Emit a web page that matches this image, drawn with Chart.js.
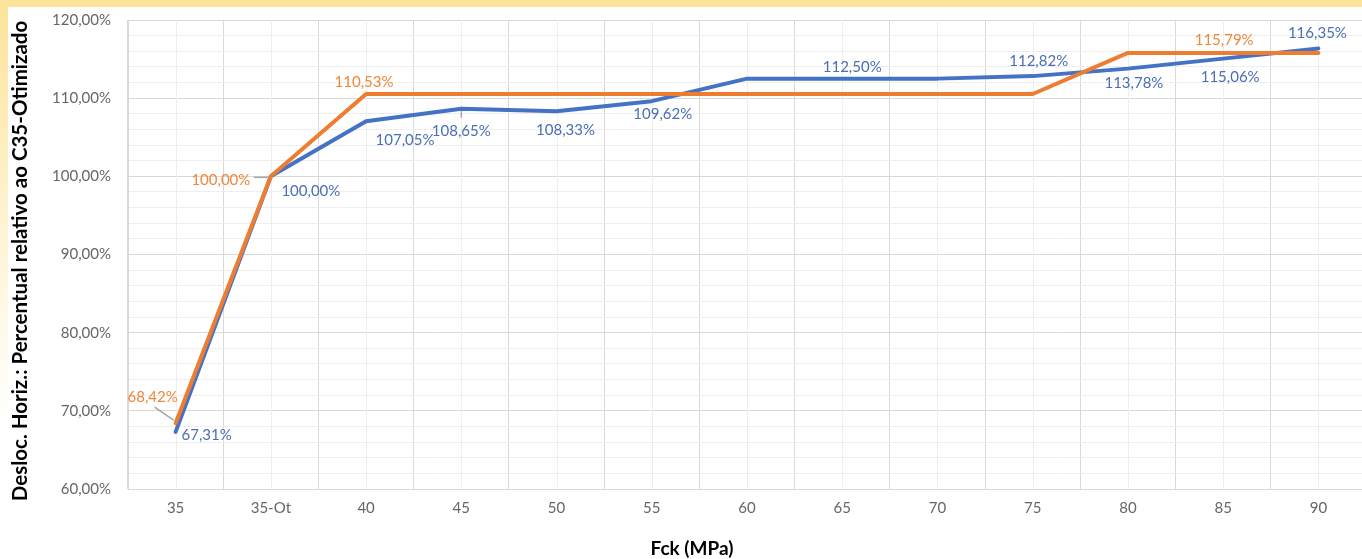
<!DOCTYPE html>
<html>
<head>
<meta charset="utf-8">
<script src="https://cdn.jsdelivr.net/npm/chart.js@4.4.1/dist/chart.umd.min.js"></script>
<style>
  html, body { margin: 0; padding: 0; background: #fff; overflow: hidden; width: 1362px; height: 559px; }
  #faixa-topo { position: absolute; left: 0; top: 0; width: 1362px; height: 7px; background: #fde49b; }
  #faixa-esq { position: absolute; left: 0; top: 7px; width: 8px; height: 420px;
    background: linear-gradient(to bottom, #fde49b 0%, rgba(253,228,155,0.5) 45%, rgba(253,228,155,0) 100%); }
  #grafico { position: absolute; left: 0; top: 0; }
</style>
</head>
<body>
<canvas id="grafico" width="1366" height="559"></canvas>
<div id="faixa-topo"></div>
<div id="faixa-esq"></div>
<script>
// Categorias do eixo X (Fck em MPa)
const categorias = ['35', '35-Ot', '40', '45', '50', '55', '60', '65', '70', '75', '80', '85', '90'];

// Séries (percentual relativo ao C35-Otimizado)
const serieAzul = [67.31, 100.00, 107.05, 108.65, 108.33, 109.62, 112.50, 112.50, 112.50, 112.82, 113.78, 115.06, 116.35];
const serieLaranja = [68.42, 100.00, 110.53, 110.53, 110.53, 110.53, 110.53, 110.53, 110.53, 110.53, 115.79, 115.79, 115.79];

// Limites do eixo Y
const yMin = 60;
const yMax = 120;

// Títulos dos eixos
const tituloX = 'Fck (MPa)';
const tituloY = 'Desloc. Horiz.: Percentual relativo ao C35-Otimizado';

// Posição dos rótulos (deslocamento em px a partir do ponto, centro do texto); null = sem rótulo
const posRotulosAzul = [[31, 3], [40, 15], [39, 19], [0, 22], [9, 19], [11, 13], null, [10, -11], null, [6, -15], [6, 15], [7, 19], [-1, -15]];
const posRotulosLaranja = [[-23, -26], [-50, 4], [-2, -12], null, null, null, null, null, null, null, null, [1, -13], null];
// Linhas de chamada: [índice, x1, y1, x2, y2] relativos ao ponto
const guiasAzul = [[3, 0, 2, 0, 9]];
const guiasLaranja = [[0, -21, -16, -2, -3], [1, -17, 1, -3, 1]];

const AZUL = '#4472c4';
const LARANJA = '#ed7d31';
const fmt = v => v.toFixed(2).replace('.', ',') + '%';

// Grade secundária vertical no centro de cada categoria
const gradeMenor = {
    id: 'gradeMenor',
    beforeDatasetsDraw(chart) {
        const { ctx, chartArea, scales } = chart;
        ctx.save();
        ctx.strokeStyle = '#eeeeee';
        ctx.lineWidth = 1;
        categorias.forEach((c, i) => {
            const x = Math.round(scales.x.getPixelForValue(i)) + 0.5;
            ctx.beginPath();
            ctx.moveTo(x, chartArea.top);
            ctx.lineTo(x, chartArea.bottom);
            ctx.stroke();
        });
        ctx.restore();
    }
};

// Rótulos de dados + títulos dos eixos
const rotulos = {
    id: 'rotulos',
    afterDatasetsDraw(chart) {
        const { ctx } = chart;
        const conf = [
            { ds: 0, pos: posRotulosAzul, guias: guiasAzul, cor: '#4a6fb5' },
            { ds: 1, pos: posRotulosLaranja, guias: guiasLaranja, cor: '#f0873a' }
        ];
        ctx.save();
        ctx.font = '15px Lato';
        ctx.textAlign = 'center';
        ctx.textBaseline = 'middle';
        conf.forEach(c => {
            const meta = chart.getDatasetMeta(c.ds);
            const dados = chart.data.datasets[c.ds].data;
            c.guias.forEach(g => {
                const p = meta.data[g[0]];
                ctx.strokeStyle = '#a6a6a6';
                ctx.lineWidth = 1.5;
                ctx.beginPath();
                ctx.moveTo(p.x + g[1], p.y + g[2]);
                ctx.lineTo(p.x + g[3], p.y + g[4]);
                ctx.stroke();
            });
            ctx.fillStyle = c.cor;
            c.pos.forEach((d, i) => {
                if (!d) return;
                const p = meta.data[i];
                ctx.fillText(fmt(dados[i]), p.x + d[0], p.y + d[1]);
            });
        });
        ctx.fillStyle = '#000';
        ctx.font = 'bold 19px Lato';
        ctx.fillText(tituloX, 692, 549);
        ctx.translate(20, 261);
        ctx.rotate(-Math.PI / 2);
        ctx.font = 'bold 20.5px Lato';
        ctx.fillText(tituloY, 0, 0);
        ctx.restore();
    }
};

const ctx = document.getElementById('grafico').getContext('2d');
const grafico = new Chart(ctx, {
    type: 'line',
    data: {
        labels: categorias,
        datasets: [
            {
                label: 'Deslocamento horizontal',
                data: serieAzul,
                borderColor: AZUL,
                borderWidth: 4,
                pointRadius: 0,
                borderJoinStyle: 'round',
                borderCapStyle: 'round',
                tension: 0,
                order: 1
            },
            {
                label: 'Referência',
                data: serieLaranja,
                borderColor: LARANJA,
                borderWidth: 4,
                pointRadius: 0,
                borderJoinStyle: 'round',
                borderCapStyle: 'round',
                tension: 0,
                order: 0
            }
        ]
    },
    options: {
        responsive: false,
        animation: false,
        layout: { padding: { top: 20, right: 0, bottom: 0, left: 0 } },
        plugins: { legend: { display: false }, tooltip: { enabled: false } },
        scales: {
            x: {
                offset: true,
                grid: { offset: true, color: '#d9d9d9', drawTicks: false },
                border: { color: '#d9d9d9' },
                ticks: { color: '#666666', font: { family: 'Lato', size: 15 }, padding: 10, maxRotation: 0, autoSkip: false },
                title: { display: false },
                afterFit: s => { s.height = 70; }
            },
            y: {
                min: yMin,
                max: yMax,
                grid: {
                    drawTicks: false,
                    color: c => (c.tick && c.tick.value % 10 === 0) ? '#d9d9d9' : '#eeeeee'
                },
                border: { color: '#d9d9d9' },
                ticks: {
                    stepSize: 2,
                    autoSkip: false,
                    padding: 17,
                    color: '#666666',
                    font: { family: 'Lato', size: 15 },
                    callback: v => (v % 10 === 0 ? fmt(v) : '')
                },
                title: { display: false },
                afterFit: s => { s.width = 128; s.paddingTop = 0; s.paddingBottom = 0; }
            }
        }
    },
    plugins: [gradeMenor, rotulos]
});
</script>
</body>
</html>
